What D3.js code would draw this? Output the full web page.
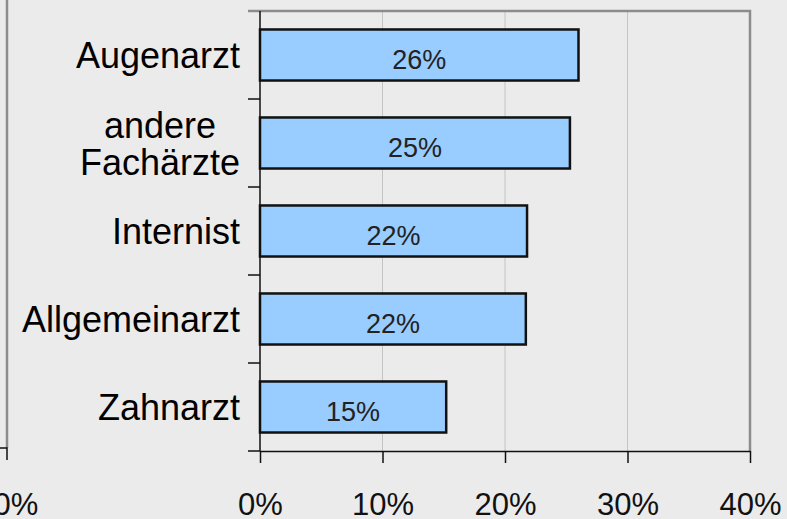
<!DOCTYPE html>
<html>
<head>
<meta charset="utf-8">
<script src="https://cdn.jsdelivr.net/npm/d3@7"></script>
<style>
  html, body { margin: 0; padding: 0; background: #ebebeb; }
  svg { display: block; font-family: "Liberation Sans", Arial, Helvetica, sans-serif; }
</style>
</head>
<body>
<svg id="chart" width="787" height="519"></svg>
<script>
// categories, top to bottom; a "\n" splits a label into lines
const CATEGORIES = ['Augenarzt', 'andere\nFachärzte', 'Internist', 'Allgemeinarzt', 'Zahnarzt'];
const VALUES = [0.26, 0.253, 0.218, 0.217, 0.152];
const VALUE_LABELS = ['26%', '25%', '22%', '22%', '15%'];
const X_TICKS = [0, 0.1, 0.2, 0.3, 0.4];

const svg = d3.select('#chart');

const x = d3.scaleLinear().domain([0, 0.4]).range([260, 750]);
const y = d3.scaleBand()
    .domain(CATEGORIES)
    .range([11, 451])
    .paddingInner(0.42)
    .paddingOuter(0.21);

// the neighbouring panel, cut off at the left edge
svg.append('line')
    .attr('x1', 7).attr('x2', 7).attr('y1', 0).attr('y2', 448)
    .attr('stroke', '#8c8c8c').attr('stroke-width', 2.5);
svg.append('path')
    .attr('d', 'M0,448H7V460')
    .attr('fill', 'none').attr('stroke', '#111').attr('stroke-width', 1.5);
svg.append('text')
    .attr('x', 16).attr('y', 515)
    .attr('text-anchor', 'middle')
    .attr('font-size', 31).attr('fill', '#111')
    .text(d3.format('.0%')(0));

// gridlines
svg.append('g')
    .selectAll('line')
    .data(X_TICKS.slice(1, -1))
    .enter()
    .append('line')
    .attr('x1', d => x(d)).attr('x2', d => x(d))
    .attr('y1', 11).attr('y2', 451)
    .attr('stroke', '#c4c4c4').attr('stroke-width', 1);

// top and right frame
svg.append('path')
    .attr('d', `M248,${y.range()[0]}H${x(0.4)}V${y.range()[1]}`)
    .attr('fill', 'none').attr('stroke', '#8c8c8c').attr('stroke-width', 2.5);

// bars
svg.append('g')
    .selectAll('rect')
    .data(CATEGORIES)
    .enter()
    .append('rect')
    .attr('x', x(0))
    .attr('y', d => y(d))
    .attr('width', (d, i) => x(VALUES[i]) - x(0))
    .attr('height', y.bandwidth())
    .attr('fill', '#99ccff')
    .attr('stroke', '#111')
    .attr('stroke-width', 2.5);

// value labels
svg.append('g')
    .selectAll('text')
    .data(CATEGORIES)
    .enter()
    .append('text')
    .attr('x', (d, i) => (x(0) + x(VALUES[i])) / 2)
    .attr('y', d => y(d) + y.bandwidth() / 2 + 14)
    .attr('text-anchor', 'middle')
    .attr('font-size', 27)
    .attr('fill', '#222')
    .text((d, i) => VALUE_LABELS[i]);

// x axis
const xAxis = d3.axisBottom(x)
    .tickValues(X_TICKS)
    .tickFormat(d3.format('.0%'))
    .tickSize(12)
    .tickSizeOuter(0)
    .tickPadding(32);
const gx = svg.append('g')
    .attr('transform', 'translate(0,451)')
    .call(xAxis);
gx.select('.domain').attr('stroke', '#111').attr('stroke-width', 1.5);
gx.selectAll('.tick line').attr('stroke', '#111').attr('stroke-width', 1.5);
gx.selectAll('.tick text')
    .attr('font-size', 31)
    .attr('font-family', null)
    .attr('fill', '#111')
    .attr('dy', '0.65em');

// y axis: ticks sit between the categories
const gy = svg.append('g');
gy.append('line')
    .attr('x1', 260).attr('x2', 260)
    .attr('y1', y.range()[0]).attr('y2', y.range()[1])
    .attr('stroke', '#111').attr('stroke-width', 1.5);
gy.selectAll('.sep')
    .data(CATEGORIES.slice(1).concat(['end']))
    .enter()
    .append('line')
    .attr('class', 'sep')
    .attr('x1', 248).attr('x2', 260)
    .attr('y1', (d, i) => y(CATEGORIES[i]) + y.bandwidth() + y.step() * y.paddingInner() / 2)
    .attr('y2', (d, i) => y(CATEGORIES[i]) + y.bandwidth() + y.step() * y.paddingInner() / 2)
    .attr('stroke', '#111').attr('stroke-width', 1.5);

// category labels, right aligned block, lines centred on each other
const lineHeight = 37;
CATEGORIES.forEach(cat => {
    const lines = cat.split('\n');
    const cy = y(cat) + y.bandwidth() / 2;
    const t = svg.append('text')
        .attr('font-size', 36)
        .attr('fill', '#000')
        .attr('text-anchor', 'middle');
    const spans = lines.map((ln, j) => t.append('tspan')
        .attr('y', cy + 13 + (j - (lines.length - 1) / 2) * lineHeight)
        .text(ln));
    const w = d3.max(spans, s => s.node().getComputedTextLength());
    spans.forEach(s => s.attr('x', 240 - w / 2));
});
</script>
</body>
</html>
